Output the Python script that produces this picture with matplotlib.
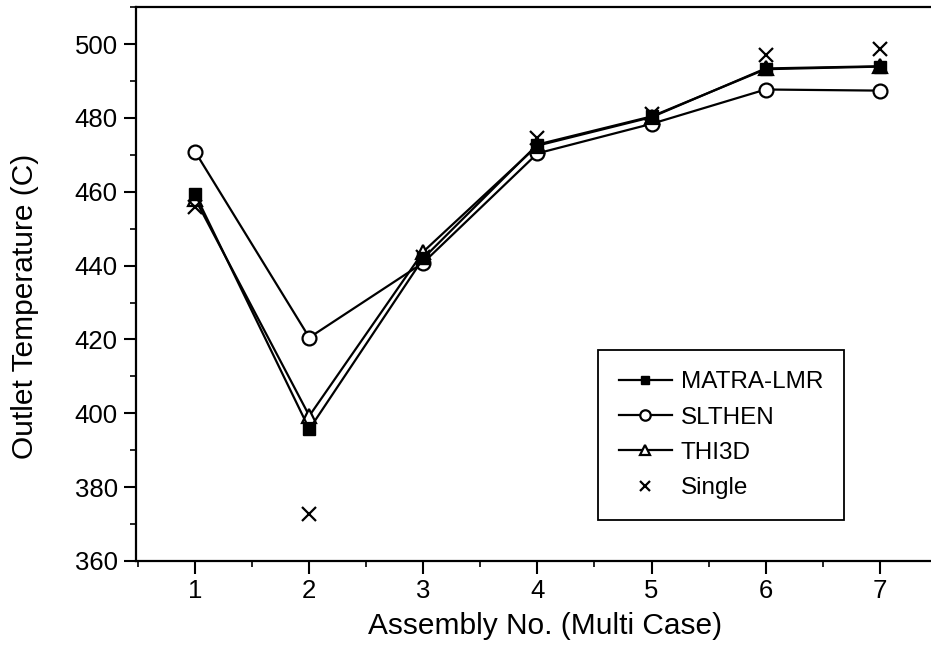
import matplotlib
matplotlib.use("Agg")
import matplotlib.pyplot as plt
from matplotlib.ticker import MultipleLocator

plt.rcParams["font.family"] = ["Liberation Sans", "DejaVu Sans"]

assembly = [1, 2, 3, 4, 5, 6, 7]
matra_lmr = [459.3, 395.7, 442.0, 472.8, 480.4, 493.2, 493.9]
slthen = [470.8, 420.5, 440.8, 470.4, 478.4, 487.7, 487.4]
thi3d = [458.0, 399.3, 443.8, 472.5, 480.2, 493.4, 494.0]
single = [455.8, 372.8, 442.3, 474.5, 481.0, 497.0, 498.6]


def main():
    fig = plt.figure(figsize=(9.31, 6.53), dpi=100)
    ax = fig.add_axes([0.146, 0.141, 0.854, 0.848])

    ax.plot(assembly, matra_lmr, color="black", lw=1.6, marker="s", ms=8.5,
            mfc="black", mec="black", label="MATRA-LMR", zorder=4)
    ax.plot(assembly, slthen, color="black", lw=1.6, marker="o", ms=10,
            mfc="white", mec="black", mew=1.6, label="SLTHEN", zorder=3)
    ax.plot(assembly, thi3d, color="black", lw=1.6, marker="^", ms=10,
            mfc="white", mec="black", mew=1.6, label="THI3D", zorder=3)
    ax.plot(assembly, single, ls="none", marker="x", ms=10, mew=1.6,
            color="black", label="Single", zorder=5)

    ax.set_xlim(0.48, 7.45)
    ax.set_ylim(360, 510)
    ax.set_xticks(assembly)
    ax.set_yticks(range(360, 501, 20))
    ax.xaxis.set_minor_locator(MultipleLocator(0.5))
    ax.yaxis.set_minor_locator(MultipleLocator(10))
    ax.tick_params(which="major", direction="out", length=9, width=1.5,
                   labelsize=18.5, top=False, right=False)
    ax.tick_params(which="minor", direction="out", length=4.5, width=1.2,
                   top=False, right=False)
    ax.tick_params(axis="x", pad=4)
    ax.tick_params(axis="y", pad=4)

    for side in ["left", "bottom", "top"]:
        ax.spines[side].set_linewidth(1.6)
    ax.spines["right"].set_visible(False)

    ax.set_xlabel("Assembly No. (Multi Case)", fontsize=21.5)
    ax.set_ylabel("Outlet Temperature (C)", fontsize=21.5)
    ax.xaxis.set_label_coords(0.514, -0.092)
    ax.yaxis.set_label_coords(-0.122, 0.46)

    leg = ax.legend(loc="lower left", bbox_to_anchor=(0.581, 0.074),
                    fontsize=17.5, frameon=True, fancybox=False,
                    edgecolor="black", framealpha=1, handlelength=2.2,
                    handletextpad=0.35, labelspacing=0.55, borderpad=0.85,
                    borderaxespad=0, markerscale=0.75)
    leg.get_frame().set_linewidth(1.3)

    fig.savefig("out.png", dpi=100)
    plt.close(fig)


if __name__ == "__main__":
    main()
